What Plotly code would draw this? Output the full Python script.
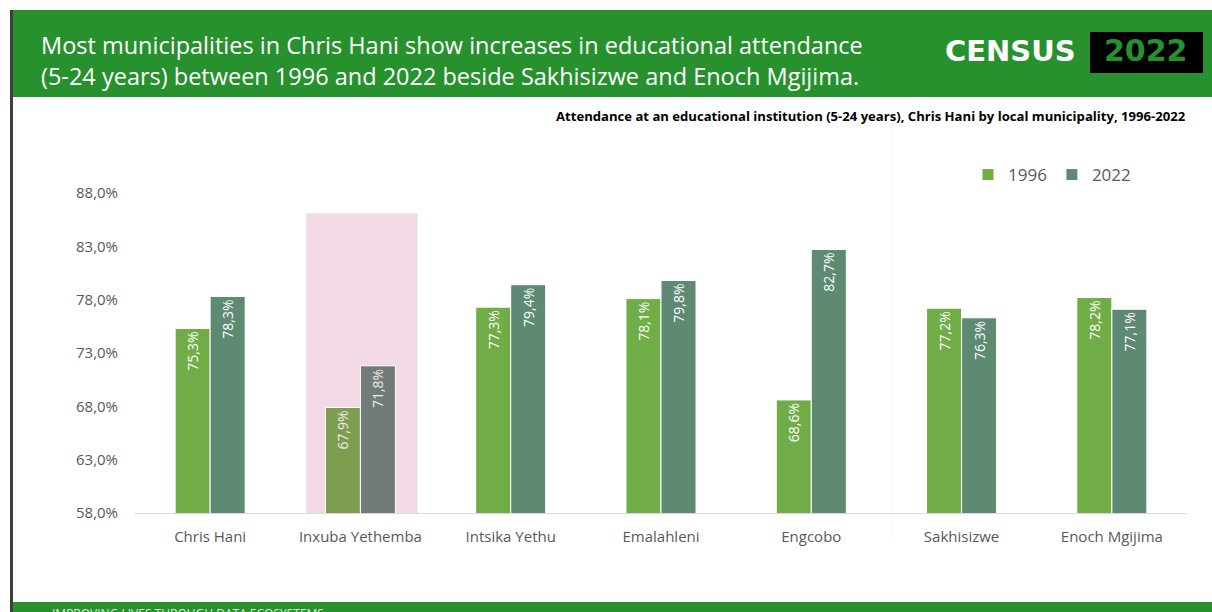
import plotly.graph_objects as go

# Attendance at an educational institution (5-24 years), Chris Hani local municipalities
municipalities = ["Chris Hani", "Inxuba Yethemba", "Intsika Yethu", "Emalahleni",
                  "Engcobo", "Sakhisizwe", "Enoch Mgijima"]
attendance_1996 = [75.3, 67.9, 77.3, 78.1, 68.6, 77.2, 78.2]
attendance_2022 = [78.3, 71.8, 79.4, 79.8, 82.7, 76.3, 77.1]
years = ["1996", "2022"]
y_ticks = [58, 63, 68, 73, 78, 83, 88]
highlighted = "Inxuba Yethemba"
highlight_top = 86.1

W, H = 1212, 612
ML, MR, MT, MB = 135, 25, 193, 99
PW, PH = W - ML - MR, H - MT - MB

GREEN = "#27912E"
C1996, C2022 = "#70AD47", "#5E8A74"
C1996_HL, C2022_HL = "#7E9E4F", "#737B79"
GREY_TXT = "#595959"
FONT = "Open Sans, Lato, sans-serif"
LOGO_FONT = "DejaVu Sans, sans-serif"


def px_x(p):
    return (p - ML) / PW


def px_y(p):
    return (H - MB - p) / PH


def pct(v):
    return f"{v:.1f}%".replace(".", ",")


hl_idx = municipalities.index(highlighted)

fig = go.Figure()
for name, vals, base, hl in [(years[0], attendance_1996, C1996, C1996_HL),
                             (years[1], attendance_2022, C2022, C2022_HL)]:
    colors = [hl if m == highlighted else base for m in municipalities]
    tcolors = ["#ececec" if m == highlighted else "white" for m in municipalities]
    fig.add_trace(go.Bar(
        x=municipalities, y=vals, name=name,
        marker=dict(color=colors, line=dict(color="white", width=1)),
        text=[pct(v) for v in vals], textposition="inside", textangle=-90,
        insidetextanchor="end",
        textfont=dict(color=tcolors, size=14, family=FONT),
        cliponaxis=False,
    ))

shapes = [
    # highlight panel behind the selected municipality
    dict(type="rect", xref="x", yref="y", x0=hl_idx - 0.36, x1=hl_idx + 0.38,
         y0=y_ticks[0], y1=highlight_top, fillcolor="#F1DAE6", line_width=0, layer="below"),
    # faint panel divider
    dict(type="line", xref="paper", yref="paper", x0=px_x(892), x1=px_x(892),
         y0=px_y(125), y1=px_y(540), line=dict(color="#f6f6f6", width=1), layer="below"),
    # header banner
    dict(type="rect", xref="paper", yref="paper", x0=px_x(13), x1=px_x(W + 2),
         y0=px_y(97), y1=px_y(10), fillcolor=GREEN, line_width=0),
    # footer band
    dict(type="rect", xref="paper", yref="paper", x0=px_x(13), x1=px_x(W + 2),
         y0=px_y(H + 2), y1=px_y(602), fillcolor=GREEN, line_width=0),
    # left page edge
    dict(type="rect", xref="paper", yref="paper", x0=px_x(10), x1=px_x(13),
         y0=px_y(H + 2), y1=px_y(10), fillcolor="#3f3f3f", line_width=0),
    # logo box
    dict(type="rect", xref="paper", yref="paper", x0=px_x(1090), x1=px_x(1203),
         y0=px_y(73), y1=px_y(32), fillcolor="black", line_width=0),
]

annotations = [
    dict(xref="paper", yref="paper", x=px_x(39), y=px_y(61), xanchor="left", yanchor="middle",
         align="left", showarrow=False,
         text="Most municipalities in Chris Hani show increases in educational attendance<br>"
              "(5-24 years) between 1996 and 2022 beside Sakhisizwe and Enoch Mgijima.",
         font=dict(family=FONT, size=23.5, color="white")),
    dict(xref="paper", yref="paper", x=px_x(1078), y=px_y(51), xanchor="right", yanchor="middle",
         showarrow=False, text="CENSUS",
         font=dict(family=LOGO_FONT, size=29, color="white", weight=900)),
    dict(xref="paper", yref="paper", x=px_x(1146), y=px_y(51), xanchor="center", yanchor="middle",
         showarrow=False, text="2022",
         font=dict(family=LOGO_FONT, size=30, color=GREEN, weight=900)),
    dict(xref="paper", yref="paper", x=px_x(1188), y=px_y(116), xanchor="right", yanchor="middle",
         showarrow=False,
         text="<b>Attendance at an educational institution (5-24 years), Chris Hani by local "
              "municipality, 1996-2022</b>",
         font=dict(family=FONT, size=13.1, color="black")),
    dict(xref="paper", yref="paper", x=px_x(50), y=px_y(603), xanchor="left", yanchor="top",
         showarrow=False, text="IMPROVING LIVES THROUGH DATA ECOSYSTEMS",
         font=dict(family=FONT, size=12, color="#d6ead6")),
]

fig.update_layout(
    width=W, height=H,
    margin=dict(l=ML, r=MR, t=MT, b=MB, pad=0),
    paper_bgcolor="white", plot_bgcolor="rgba(0,0,0,0)",
    barmode="group", bargap=0.534, bargroupgap=0,
    font=dict(family=FONT, color=GREY_TXT),
    showlegend=True,
    legend=dict(orientation="h", x=px_x(968), y=px_y(175), xanchor="left", yanchor="middle",
                font=dict(size=17, color=GREY_TXT), itemwidth=30, traceorder="normal",
                bgcolor="rgba(0,0,0,0)"),
    shapes=shapes, annotations=annotations,
)
fig.update_xaxes(showgrid=False, showline=True, linecolor="#d9d9d9", linewidth=1,
                 tickfont=dict(size=15, color=GREY_TXT), ticks="", ticklabelstandoff=10,
                 fixedrange=True)
fig.update_yaxes(range=[y_ticks[0], y_ticks[-1]], tickvals=y_ticks,
                 ticktext=[pct(v) for v in y_ticks], showgrid=False, zeroline=False,
                 tickfont=dict(size=15, color=GREY_TXT), ticklabelstandoff=16,
                 fixedrange=True)

fig.write_html("out.html", config=dict(displayModeBar=False))
